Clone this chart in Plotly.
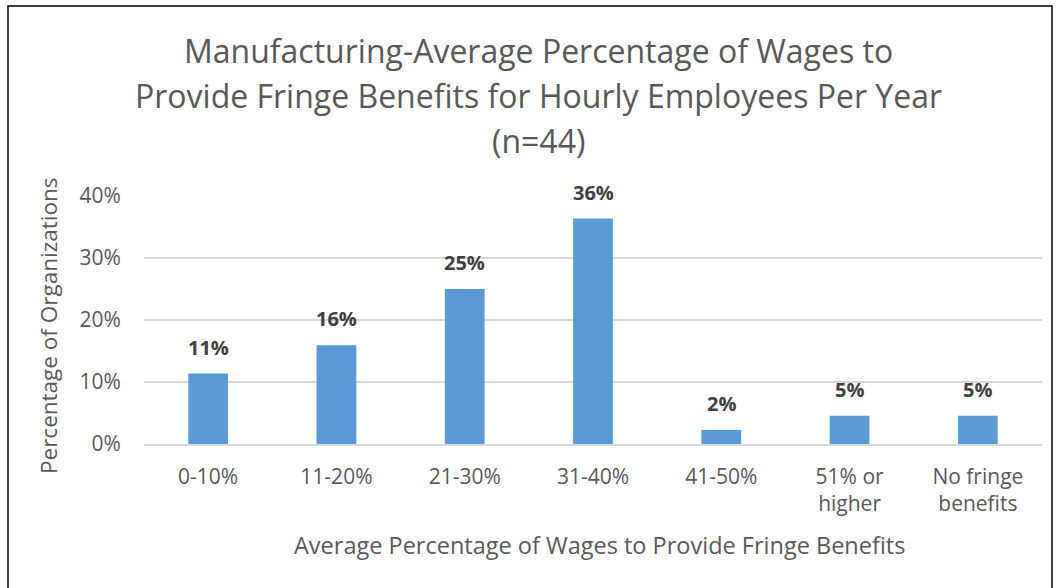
import plotly.graph_objects as go

# Survey results: share of organizations (n=44) by fringe-benefit cost bracket
categories = ["0-10%", "11-20%", "21-30%", "31-40%", "41-50%", "51% or<br>higher", "No fringe<br>benefits"]
percent_orgs = [11.36, 15.91, 25.00, 36.36, 2.27, 4.55, 4.55]
y_ticks = [0, 10, 20, 30, 40]
y_tick_labels = ["0%", "10%", "20%", "30%", "40%"]

title_lines = [
    "Manufacturing-Average Percentage of Wages to",
    "Provide Fringe Benefits for Hourly Employees Per Year",
    "(n=44)",
]
x_title = "Average Percentage of Wages to Provide Fringe Benefits"
y_title = "Percentage of Organizations"

W, H = 1060, 588
L, R, T, B = 144, 18, 196, 144
plot_w, plot_h = W - L - R, H - T - B

def px_x(px):
    return (px - L) / plot_w

def px_y(py):
    return (H - B - py) / plot_h

FONT = "Open Sans"
GREY = "#595959"

fig = go.Figure()
fig.add_trace(go.Bar(
    x=categories,
    y=percent_orgs,
    marker=dict(color="#5B9BD5", line=dict(width=0)),
    hoverinfo="skip",
))

annotations = []
for cat, v in zip(categories, percent_orgs):
    annotations.append(dict(
        x=cat, y=v, xref="x", yref="y",
        text=f"<b>{v:.0f}%</b>", showarrow=False,
        yanchor="bottom", yshift=11,
        font=dict(family=FONT, size=20, color="#404040"),
    ))

for i, (line, ypix) in enumerate(zip(title_lines, [50, 95, 140])):
    annotations.append(dict(
        x=px_x(538), y=px_y(ypix), xref="paper", yref="paper",
        text=line, showarrow=False, xanchor="center", yanchor="middle",
        font=dict(family=FONT, size=32, color=GREY),
    ))

annotations.append(dict(
    x=px_x(599), y=px_y(545), xref="paper", yref="paper",
    text=x_title, showarrow=False, xanchor="center", yanchor="middle",
    font=dict(family=FONT, size=23.5, color=GREY),
))
annotations.append(dict(
    x=px_x(48), y=px_y(326), xref="paper", yref="paper",
    text=y_title, showarrow=False, textangle=-90, xanchor="center", yanchor="middle",
    font=dict(family=FONT, size=22.5, color=GREY),
))

fig.update_layout(
    width=W, height=H,
    margin=dict(l=L, r=R, t=T, b=B, pad=0),
    paper_bgcolor="white", plot_bgcolor="white",
    showlegend=False,
    bargap=0.69,
    annotations=annotations,
    shapes=[dict(
        type="rect", xref="paper", yref="paper",
        x0=px_x(8), x1=px_x(1052), y0=px_y(640), y1=px_y(6),
        line=dict(color="black", width=1.5), fillcolor="rgba(0,0,0,0)", layer="below",
    )],
)
fig.update_xaxes(
    showgrid=False, showline=True, linecolor="#D9D9D9", linewidth=1.5,
    ticks="outside", ticklen=13, tickcolor="rgba(0,0,0,0)",
    tickfont=dict(family=FONT, size=21, color=GREY),
)
fig.update_yaxes(
    range=[0, 40], tickvals=y_ticks, ticktext=y_tick_labels,
    showgrid=True, gridcolor="#D9D9D9", gridwidth=1.5, zeroline=False, showline=False,
    ticks="outside", ticklen=18, tickcolor="rgba(0,0,0,0)",
    tickfont=dict(family=FONT, size=21, color=GREY),
)

fig.write_html("out.html")
